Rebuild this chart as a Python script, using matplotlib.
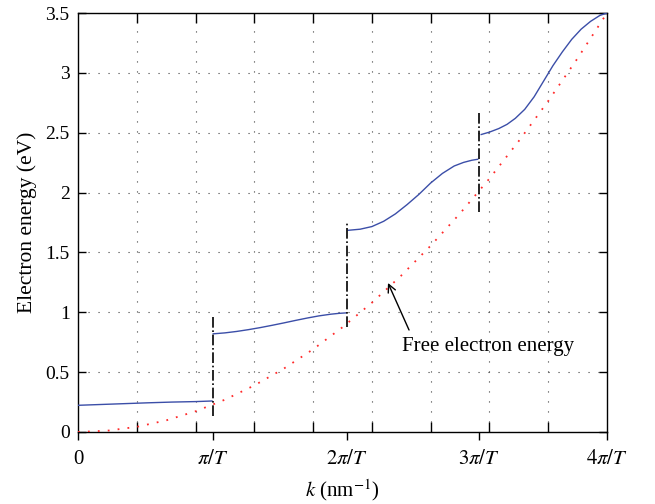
import numpy as np
import matplotlib
matplotlib.use('Agg')
import matplotlib.pyplot as plt
from matplotlib.ticker import MultipleLocator

plt.rcParams['font.family'] = ['Liberation Serif', 'DejaVu Serif']
plt.rcParams['mathtext.fontset'] = 'stix'

# band edges (pi/T multiples, in nm^-1)
k_edges = [1.146, 2.292, 3.414, 4.5]
edge_labels = ['0', r'$\pi/T$', r'$2\pi/T$', r'$3\pi/T$', r'$4\pi/T$']
y_ticks = [0, 0.5, 1, 1.5, 2, 2.5, 3, 3.5]
y_labels = ['0', '0.5', '1', '1.5', '2', '2.5', '3', '3.5']

# blue bands
k1 = [0.0, 0.2, 0.4, 0.6, 0.8, 1.0, 1.14]
e1 = [0.223, 0.230, 0.237, 0.244, 0.250, 0.254, 0.259]
k2 = [1.15, 1.25, 1.35, 1.45, 1.55, 1.65, 1.75, 1.85, 1.95, 2.05, 2.15, 2.22, 2.28]
e2 = [0.820, 0.828, 0.840, 0.855, 0.872, 0.891, 0.911, 0.932, 0.952, 0.970, 0.984, 0.991, 0.995]
k3 = [2.30, 2.40, 2.50, 2.60, 2.70, 2.80, 2.90, 3.00, 3.10, 3.20, 3.28, 3.35, 3.40]
e3 = [1.685, 1.694, 1.716, 1.760, 1.822, 1.900, 1.985, 2.080, 2.160, 2.222, 2.252, 2.270, 2.278]
k4 = [3.43, 3.50, 3.58, 3.65, 3.72, 3.80, 3.88, 3.96, 4.04, 4.12, 4.20, 4.28, 4.36, 4.44, 4.50]
e4 = [2.485, 2.505, 2.535, 2.570, 2.620, 2.695, 2.800, 2.930, 3.060, 3.175, 3.280, 3.365, 3.430, 3.480, 3.500]

# free electron (red dotted)
kf = [0.0, 0.25, 0.5, 0.75, 1.0, 1.25, 1.5, 1.75, 2.0, 2.25, 2.5, 2.75, 3.0, 3.25, 3.5, 3.75, 4.0, 4.25, 4.5]
ef = [0.0, 0.011, 0.043, 0.097, 0.173, 0.270, 0.389, 0.529, 0.691, 0.875, 1.080, 1.307, 1.556, 1.826, 2.117, 2.431, 2.765, 3.122, 3.5]

# gaps at the zone boundaries
gap_lo = [0.13, 0.88, 1.84]
gap_hi = [0.96, 1.75, 2.67]

fig = plt.figure(figsize=(6.55, 5.04), dpi=100)
ax = fig.add_axes([78/655, 1-432/504, 529/655, 419/504])

blue = '#3b4ea8'
for kk, ee in [(k1, e1), (k2, e2), (k3, e3), (k4, e4)]:
    ax.plot(kk, ee, color=blue, lw=1.0, zorder=3)
ax.plot(kf, ef, color='#ff2a2a', lw=1.3, ls=(0, (1, 4.5)), zorder=3)
for x, lo, hi in zip(k_edges[:3], gap_lo, gap_hi):
    ax.plot([x, x], [lo, hi], color='black', lw=1.2, ls='-.', zorder=3)

# label + arrow pointing at the free electron curve
ax.text(3.488, 0.718, 'Free electron energy', ha='center', va='center', fontsize=15)
ax.annotate('', xy=(2.637, 1.245), xytext=(2.816, 0.852),
            arrowprops=dict(arrowstyle='->', color='black', lw=1.0,
                            mutation_scale=14, shrinkA=0, shrinkB=0))

ax.set_xlim(0, 4.5)
ax.set_ylim(0, 3.5)
ax.set_xticks([0] + k_edges)
ax.set_xticklabels(edge_labels)
ax.xaxis.set_minor_locator(MultipleLocator(0.5))
ax.set_yticks(y_ticks)
ax.set_yticklabels(y_labels)

ax.tick_params(axis='x', which='major', direction='out', length=6, width=1,
               labelsize=15, pad=7)
ax.tick_params(axis='x', which='minor', direction='in', length=7, width=1,
               top=True, bottom=True)
ax.tick_params(axis='y', direction='in', length=6, width=1, right=True,
               labelsize=14, pad=6)

grid_kw = dict(color='0.25', lw=0.8, ls=(0, (1, 8)))
ax.grid(False)
ax.xaxis.grid(True, which='minor', **grid_kw)
ax.yaxis.grid(True, which='major', **grid_kw)

for s in ax.spines.values():
    s.set_linewidth(1.0)

ax.set_xlabel(r'$k$ (nm$^{-1}$)', fontsize=15, labelpad=6)
ax.set_ylabel('Electron energy (eV)', fontsize=15.5, labelpad=6)

fig.savefig('out.png', dpi=100)
